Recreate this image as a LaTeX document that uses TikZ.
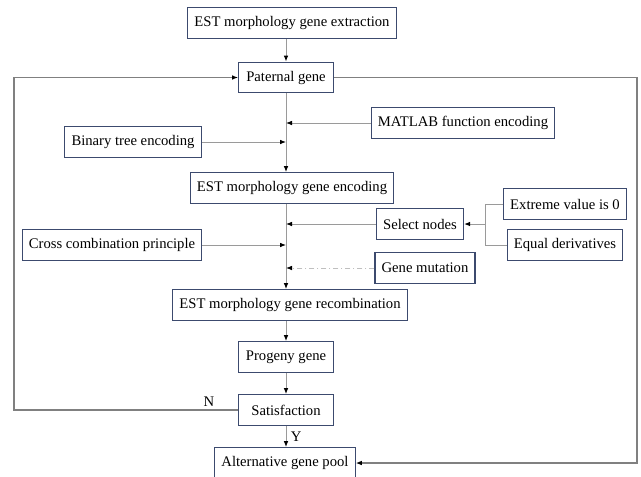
\documentclass[tikz,border=0pt]{standalone}
\usepackage{fontspec}
\setmainfont{Liberation Serif}
\usetikzlibrary{arrows.meta}
\definecolor{boxblue}{HTML}{3C4A6E}
\definecolor{linegray}{HTML}{9A9A9A}
\begin{document}
\begin{tikzpicture}[x=0.75pt,y=-0.75pt,
		genebox/.style={draw=boxblue,line width=0.9pt,fill=white,inner xsep=5pt,minimum height=23pt,font=\fontsize{11}{13}\selectfont},
		narrowbox/.style={genebox,minimum width=71pt},
		flow/.style={draw=linegray,line width=0.7pt,-{Latex[black,length=4.5pt,width=3.5pt]}},
		plain/.style={draw=linegray,line width=0.7pt},
		loopline/.style={draw=gray,line width=0.8pt}]
		\useasboundingbox (0,0) rectangle (641,476);
		
		\node[genebox] (ext) at (292,23){EST morphology gene extraction};
		\node[narrowbox] (pat) at (286,77.5){Paternal gene};
		\node[genebox] (matlab) at (463,123){MATLAB function encoding};
		\node[genebox] (binary) at (133,142){Binary tree encoding};
		\node[genebox] (enc) at (292,188){EST morphology gene encoding};
		\node[genebox] (select) at (420,224){Select nodes};
		\node[genebox] (extreme) at (565,204){Extreme value is 0};
		\node[genebox] (equal) at (565,245){Equal derivatives};
		\node[genebox] (cross) at (112,245){Cross combination principle};
		\node[genebox] (mut) at (425,268){Gene mutation};
		\node[genebox] (recomb) at (290,305){EST morphology gene recombination};
		\node[narrowbox] (prog) at (286,357){Progeny gene};
		\node[narrowbox] (sat) at (286,410){Satisfaction};
		\node[genebox] (pool) at (285,463){Alternative gene pool};
		
		\coordinate (jmatlab) at (pat.south |- matlab.west);
		\coordinate (jbinary) at (pat.south |- binary.east);
		\coordinate (jselect) at (pat.south |- select.west);
		\coordinate (jcross) at (pat.south |- cross.east);
		\coordinate (jmut) at (pat.south |- mut.west);
		\coordinate (fork) at (485,224);
		\coordinate (rtop) at (637,77.5);
		\coordinate (rbot) at (637,463);
		\coordinate (lbot) at (14,410);
		\coordinate (ltop) at (14,77.5);
		
		\draw[flow] (ext.south -| pat.north) -- (pat.north);
		\draw[flow] (pat.south) -- (pat.south |- enc.north);
		\draw[flow] (matlab.west) -- (jmatlab);
		\draw[flow] (binary.east) -- (jbinary);
		\draw[flow] (pat.south |- enc.south) -- (pat.south |- recomb.north);
		\draw[flow] (select.west) -- (jselect);
		\draw[flow] (cross.east) -- (jcross);
		\draw[flow,dash pattern=on 4pt off 2pt on 1pt off 2pt,draw=lightgray] (mut.west) -- (jmut);
		\draw[plain] (extreme.west) -- (extreme.west -| fork) -- (equal.west -| fork) -- (equal.west);
		\draw[flow] (fork) -- (select.east);
		\draw[flow] (pat.south |- recomb.south) -- (prog.north);
		\draw[flow] (prog.south) -- (sat.north);
		\draw[flow] (sat.south) -- node[right,font=\fontsize{11}{13}\selectfont]{Y} (pool.north -| sat.south);
		\draw[loopline,-{Latex[black,length=4.5pt,width=3.5pt]}] (sat.west) -- (lbot) -- (ltop) -- (pat.west);
		\draw[loopline,-{Latex[black,length=4.5pt,width=3.5pt]}] (pat.east) -- (rtop) -- (rbot) -- (pool.east);
		\node[font=\fontsize{11}{13}\selectfont] (nlabel) at (209,402){N};
	\end{tikzpicture}
\end{document}
